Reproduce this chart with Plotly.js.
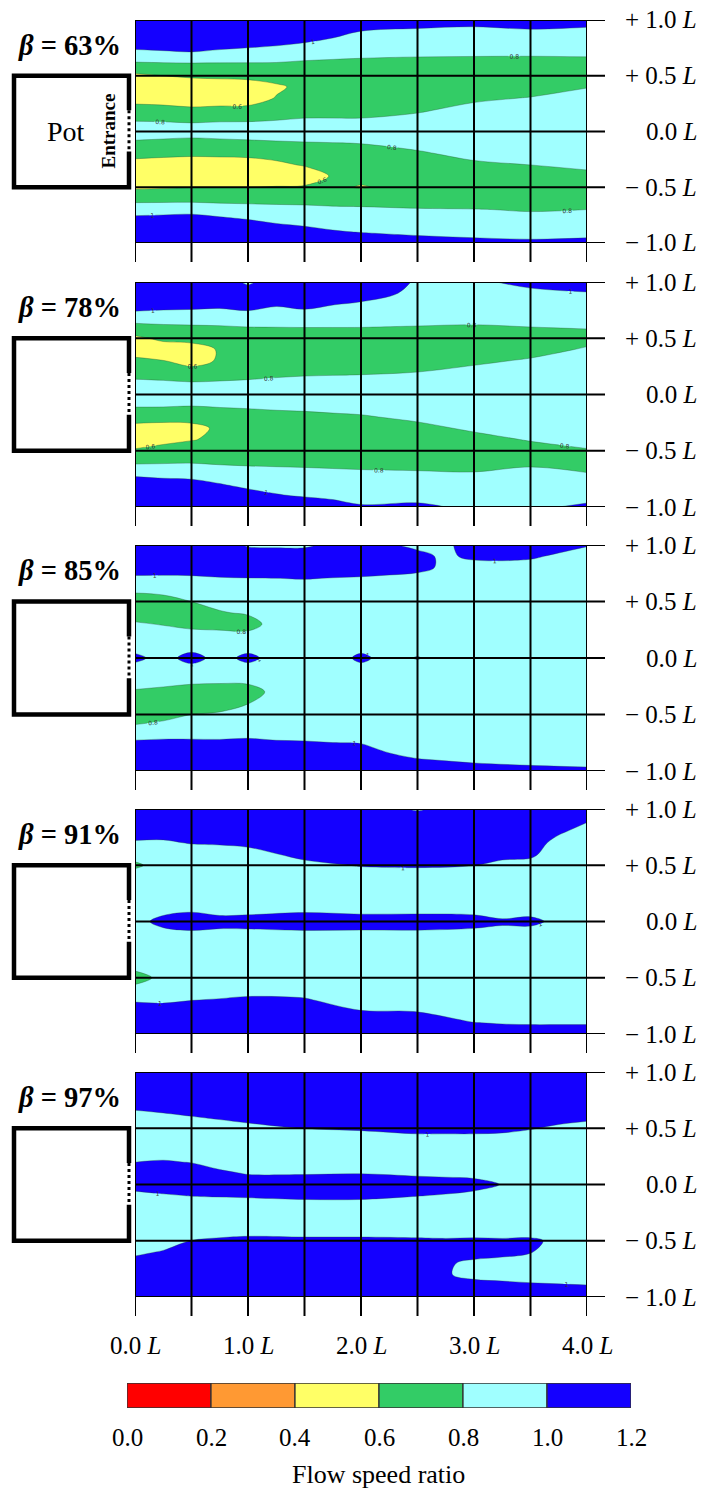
<!DOCTYPE html>
<html><head><meta charset="utf-8">
<script src="https://cdn.plot.ly/plotly-3.0.1.min.js"></script>
<style>html,body{margin:0;padding:0;background:#fff}#chart{width:713px;height:1490px}</style>
</head><body><div id="chart"></div>
<script>
// ---------- DATA ----------
// y nodes (in units of L), top to bottom
const yNodes = [1.0, 0.9, 0.8, 0.7, 0.6, 0.5, 0.4, 0.3, 0.2, 0.1, 0.0, -0.1, -0.2, -0.3, -0.4, -0.5, -0.6, -0.7, -0.8, -0.9, -1.0];
const betaLabels = ['63%', '78%', '85%', '91%', '97%'];

// beta = 63 %  (each inner array = one x column, values top -> bottom)
const x63 = [0, 0.25, 0.5, 0.75, 1, 1.25, 1.5, 1.75, 2, 2.5, 3, 3.5, 4];
const z63 = [
  [1.15,1.15,1.10,0.945,0.758,0.56,0.45,0.53,0.66,0.79,0.91,0.77,0.66,0.525,0.45,0.57,0.733,0.909,1.075,1.15,1.15],
  [1.15,1.15,1.12,0.96,0.767,0.60,0.45,0.51,0.653,0.787,0.89,0.756,0.644,0.51,0.45,0.585,0.733,0.916,1.09,1.15,1.15],
  [1.15,1.15,1.135,0.978,0.771,0.629,0.48,0.48,0.63,0.778,0.875,0.744,0.633,0.495,0.45,0.598,0.733,0.925,1.105,1.15,1.15],
  [1.15,1.15,1.105,0.945,0.773,0.64,0.495,0.495,0.643,0.786,0.89,0.754,0.64,0.50,0.45,0.598,0.733,0.89,1.06,1.15,1.15],
  [1.15,1.15,1.075,0.923,0.775,0.65,0.51,0.50,0.648,0.786,0.905,0.765,0.647,0.51,0.45,0.598,0.733,0.871,1.015,1.15,1.15],
  [1.15,1.15,1.045,0.903,0.776,0.678,0.57,0.61,0.705,0.80,0.92,0.779,0.674,0.555,0.465,0.612,0.736,0.854,0.966,1.105,1.15],
  [1.15,1.15,1.005,0.882,0.755,0.65,0.65,0.65,0.68,0.83,0.935,0.791,0.704,0.617,0.48,0.623,0.737,0.844,0.941,1.06,1.15],
  [1.15,1.075,0.953,0.86,0.748,0.65,0.65,0.65,0.68,0.83,0.95,0.80,0.65,0.64,0.62,0.63,0.715,0.837,0.923,1.015,1.15],
  [1.15,1.0,0.923,0.846,0.74,0.65,0.65,0.65,0.68,0.83,0.965,0.815,0.665,0.65,0.64,0.59,0.71,0.832,0.912,0.992,1.135],
  [1.09,0.972,0.903,0.834,0.725,0.65,0.65,0.65,0.748,0.90,0.95,0.905,0.755,0.65,0.65,0.65,0.68,0.815,0.889,0.963,1.075],
  [1.06,0.961,0.895,0.83,0.718,0.65,0.65,0.74,0.89,0.95,0.95,0.95,0.89,0.74,0.65,0.65,0.665,0.807,0.879,0.95,1.045],
  [1.105,0.978,0.904,0.83,0.71,0.65,0.665,0.815,0.95,0.95,0.95,0.95,0.95,0.80,0.65,0.65,0.65,0.785,0.867,0.941,1.03],
  [1.068,0.964,0.898,0.833,0.725,0.65,0.785,0.935,0.95,0.95,0.95,0.95,0.95,0.868,0.718,0.65,0.65,0.80,0.874,0.948,1.045]
];

// beta = 78 %
const x78 = [0, 0.25, 0.5, 0.75, 1, 1.25, 1.5, 1.75, 2, 2.5, 3, 3.5, 4];
const z78 = [
  [1.15,1.15,1.10,0.932,0.735,0.561,0.513,0.639,0.731,0.839,0.95,0.816,0.68,0.539,0.478,0.627,0.766,0.952,1.114,1.15,1.15],
  [1.15,1.15,1.078,0.92,0.765,0.641,0.50,0.604,0.713,0.83,0.95,0.815,0.671,0.525,0.545,0.669,0.778,0.931,1.087,1.15,1.15],
  [1.15,1.15,1.065,0.917,0.776,0.657,0.522,0.53,0.675,0.817,0.95,0.803,0.675,0.539,0.59,0.689,0.786,0.922,1.069,1.15,1.15],
  [1.15,1.15,1.047,0.913,0.785,0.64,0.615,0.62,0.68,0.83,0.95,0.823,0.673,0.635,0.635,0.65,0.77,0.892,1.01,1.15,1.15],
  [0.95,1.15,1.078,0.935,0.80,0.65,0.65,0.65,0.698,0.848,0.95,0.839,0.689,0.65,0.65,0.65,0.764,0.867,0.954,1.072,1.15],
  [1.15,1.15,1.02,0.908,0.803,0.654,0.65,0.65,0.725,0.875,0.95,0.86,0.71,0.65,0.65,0.65,0.76,0.856,0.932,1.015,1.15],
  [1.15,1.15,1.056,0.925,0.807,0.659,0.65,0.65,0.746,0.896,0.95,0.875,0.725,0.65,0.65,0.65,0.755,0.848,0.917,0.986,1.12],
  [1.15,1.15,1.005,0.903,0.806,0.659,0.65,0.65,0.755,0.905,0.95,0.898,0.748,0.65,0.65,0.65,0.745,0.84,0.903,0.965,1.068],
  [1.15,1.095,0.97,0.887,0.805,0.659,0.65,0.65,0.764,0.914,0.95,0.92,0.77,0.65,0.65,0.65,0.734,0.832,0.89,0.948,1.015],
  [0.98,0.95,0.95,0.937,0.787,0.65,0.65,0.65,0.80,0.95,0.95,0.95,0.866,0.716,0.65,0.65,0.712,0.826,0.888,0.95,1.03],
  [0.97,0.95,0.95,0.92,0.77,0.65,0.65,0.739,0.889,0.95,0.95,0.95,0.95,0.85,0.70,0.65,0.667,0.817,0.95,0.95,0.97],
  [1.045,0.962,0.908,0.854,0.80,0.65,0.686,0.836,0.95,0.95,0.95,0.95,0.95,0.95,0.824,0.674,0.734,0.884,0.95,0.95,0.97],
  [1.111,0.986,0.93,0.875,0.82,0.704,0.833,0.95,0.95,0.95,0.95,0.95,0.95,0.95,0.92,0.77,0.667,0.808,0.876,0.945,1.03]
];

// beta = 85 %
const x85 = [0, 0.25, 0.5, 0.75, 1, 1.25, 1.5, 1.75, 2, 2.25, 2.5, 2.75, 3, 3.5, 4];
const z85 = [
  [1.15,1.15,1.099,0.958,0.835,0.692,0.68,0.83,0.93,0.9,1.067,0.9,0.918,0.768,0.65,0.667,0.816,0.96,1.108,1.15,1.15],
  [1.15,1.15,1.09,0.958,0.854,0.728,0.65,0.785,0.92,0.9,0.9,0.9,0.884,0.734,0.65,0.725,0.858,0.974,1.117,1.15,1.15],
  [1.15,1.15,1.086,0.965,0.883,0.802,0.653,0.734,0.884,0.9,1.1,0.9,0.848,0.698,0.653,0.80,0.889,0.976,1.108,1.15,1.15],
  [1.15,1.15,1.108,0.982,0.919,0.857,0.785,0.72,0.87,0.9,0.9,0.9,0.839,0.689,0.707,0.828,0.901,0.975,1.099,1.15,1.15],
  [0.97,1.15,1.12,0.989,0.934,0.878,0.823,0.712,0.857,0.9,1.07,0.9,0.848,0.698,0.796,0.863,0.925,0.986,1.117,1.15,1.15],
  [0.95,1.15,1.142,0.992,0.85,0.85,0.85,0.89,0.88,0.9,0.9,0.9,0.88,0.87,0.86,0.85,0.85,0.958,1.108,1.15,1.15],
  [0.95,1.15,1.15,1.006,0.856,0.85,0.85,0.85,0.85,0.85,0.85,0.85,0.85,0.85,0.85,0.85,0.85,0.949,1.099,1.15,1.15],
  [1.06,1.15,1.135,0.985,0.85,0.85,0.85,0.85,0.85,0.85,0.85,0.85,0.85,0.85,0.85,0.85,0.85,0.927,1.077,1.15,1.15],
  [1.15,1.15,1.12,0.972,0.85,0.85,0.85,0.85,0.85,0.9,1.07,0.9,0.85,0.85,0.85,0.85,0.85,0.913,1.063,1.15,1.15],
  [1.02,1.15,1.099,0.949,0.85,0.85,0.85,0.85,0.85,0.85,0.88,0.85,0.85,0.85,0.85,0.85,0.85,0.85,0.94,1.09,1.15],
  [0.95,1.06,1.067,0.918,0.85,0.85,0.85,0.85,0.85,0.85,1.022,0.85,0.85,0.85,0.85,0.85,0.85,0.85,0.865,1.015,1.15],
  [0.97,0.96,0.955,0.9,0.85,0.85,0.85,0.85,0.85,0.85,0.85,0.85,0.85,0.85,0.85,0.85,0.85,0.85,0.85,0.985,1.135],
  [1.08,1.05,0.9,0.85,0.85,0.85,0.85,0.85,0.85,0.85,0.85,0.85,0.85,0.85,0.85,0.85,0.85,0.85,0.85,0.957,1.106],
  [1.15,1.04,0.89,0.85,0.85,0.85,0.85,0.85,0.85,0.85,0.85,0.85,0.85,0.85,0.85,0.85,0.85,0.85,0.85,0.925,1.075],
  [1.022,0.872,0.85,0.85,0.85,0.85,0.85,0.85,0.85,0.85,0.85,0.85,0.85,0.85,0.85,0.85,0.85,0.85,0.85,0.902,1.052]
];

// beta = 91 %
const x91 = [0, 0.25, 0.5, 0.75, 1, 1.5, 2, 2.5, 3, 3.25, 3.5, 3.75, 4];
const z91 = [
  [1.15,1.15,1.12,0.97,0.9,0.757,0.9,0.88,0.88,0.9,0.91,0.88,0.87,0.87,0.9,0.65,0.9,0.976,1.126,1.15,1.15],
  [1.15,1.15,1.112,0.962,0.9,0.9,0.9,0.85,0.85,0.93,1.08,0.934,0.85,0.85,0.9,0.9,0.88,0.962,1.112,1.15,1.15],
  [1.15,1.15,1.15,1.017,0.867,0.85,0.85,0.85,0.85,0.975,1.12,0.97,0.85,0.85,0.85,0.85,0.85,0.998,1.149,1.15,1.15],
  [1.15,1.15,1.15,1.03,0.88,0.85,0.85,0.85,0.85,0.93,1.08,0.955,0.85,0.85,0.85,0.85,0.871,1.021,1.15,1.15,1.15],
  [1.15,1.15,1.15,1.06,0.91,0.85,0.85,0.85,0.85,0.939,1.089,0.955,0.85,0.85,0.85,0.85,0.901,1.051,1.15,1.15,1.15],
  [1.15,1.15,1.15,1.15,1.08,0.93,0.85,0.85,0.85,0.97,1.12,0.97,0.85,0.85,0.85,0.85,0.88,1.03,1.15,1.15,1.15],
  [1.15,1.15,1.15,1.15,1.15,1.018,0.868,0.85,0.85,0.948,1.098,0.97,0.85,0.85,0.85,0.85,0.85,0.865,1.015,1.15,1.15],
  [0.97,1.15,1.15,1.15,1.15,1.032,0.882,0.85,0.85,0.952,1.10,0.97,0.85,0.85,0.85,0.85,0.85,0.852,0.998,1.15,1.15],
  [1.15,1.15,1.15,1.15,1.15,1.005,0.855,0.85,0.85,0.939,1.089,0.943,0.85,0.85,0.85,0.85,0.85,0.85,0.856,1.006,1.15],
  [1.15,1.15,1.15,1.15,1.08,0.93,0.85,0.85,0.85,0.886,1.036,0.934,0.85,0.85,0.85,0.85,0.85,0.85,0.85,0.984,1.134],
  [1.15,1.15,1.15,1.15,1.057,0.907,0.85,0.85,0.85,0.916,1.06,0.912,0.85,0.85,0.85,0.85,0.85,0.85,0.85,0.975,1.125],
  [1.15,1.15,1.047,0.897,0.85,0.85,0.85,0.85,0.85,0.88,0.935,0.88,0.85,0.85,0.85,0.85,0.85,0.85,0.85,0.975,1.125],
  [1.15,1.03,0.88,0.85,0.85,0.85,0.85,0.85,0.85,0.85,0.85,0.85,0.85,0.85,0.85,0.85,0.85,0.85,0.85,0.975,1.125]
];

// beta = 97 %
const x97 = [0, 0.25, 0.5, 0.75, 1, 1.5, 2, 2.5, 2.75, 3, 3.25, 3.5, 3.75, 4];
const z97 = [
  [1.15,1.15,1.15,1.06,0.91,0.85,0.85,0.852,0.998,1.15,1.089,0.939,0.85,0.85,0.85,0.85,0.946,1.096,1.15,1.15,1.15],
  [1.15,1.15,1.15,1.096,0.946,0.85,0.85,0.874,1.024,1.15,1.125,0.975,0.85,0.85,0.85,0.871,1.021,1.15,1.15,1.15,1.15],
  [1.15,1.15,1.15,1.15,0.99,0.85,0.85,0.85,0.988,1.138,1.15,1.006,0.856,0.85,0.855,1.005,1.15,1.15,1.15,1.15,1.15],
  [1.15,1.15,1.15,1.15,1.035,0.885,0.85,0.85,0.90,1.05,1.15,1.018,0.868,0.85,0.89,1.04,1.15,1.15,1.15,1.15,1.15],
  [1.15,1.15,1.15,1.15,1.08,0.93,0.85,0.85,0.85,0.983,1.133,1.027,0.877,0.85,0.91,1.06,1.15,1.15,1.15,1.15,1.15],
  [1.15,1.15,1.15,1.15,1.15,1.005,0.855,0.85,0.85,0.983,1.133,1.05,0.90,0.85,0.90,1.05,1.15,1.15,1.15,1.15,1.15],
  [1.15,1.15,1.15,1.15,1.15,1.032,0.882,0.85,0.85,0.993,1.143,1.05,0.90,0.85,0.90,1.05,1.15,1.15,1.15,1.15,1.15],
  [1.15,1.15,1.15,1.15,1.15,1.075,0.925,0.85,0.85,0.961,1.111,1.006,0.856,0.85,0.89,1.04,1.15,1.15,1.15,1.15,1.15],
  [1.15,1.15,1.15,1.15,1.15,1.075,0.925,0.85,0.85,0.947,1.098,0.983,0.85,0.85,0.88,1.032,1.10,1.03,1.02,1.10,1.15],
  [1.15,1.15,1.15,1.15,1.15,1.075,0.925,0.85,0.85,0.93,1.08,0.939,0.85,0.85,0.89,1.04,1.099,0.949,0.935,1.086,1.15],
  [1.15,1.15,1.15,1.15,1.15,1.062,0.912,0.85,0.85,0.88,0.99,0.88,0.85,0.85,0.88,1.032,1.068,0.918,0.913,1.063,1.15],
  [1.15,1.15,1.15,1.15,1.15,1.018,0.868,0.85,0.85,0.85,0.85,0.85,0.85,0.85,0.89,1.04,1.01,0.86,0.89,1.04,1.15],
  [1.15,1.15,1.15,1.15,1.10,0.95,0.85,0.85,0.85,0.85,0.85,0.85,0.85,0.85,0.85,0.95,0.93,0.85,0.875,1.025,1.15],
  [1.15,1.15,1.15,1.15,1.057,0.907,0.85,0.85,0.85,0.85,0.85,0.85,0.85,0.85,0.85,0.85,0.85,0.85,0.86,1.01,1.15]
];

// colour classes of the flow speed ratio
const levels = [0.0, 0.2, 0.4, 0.6, 0.8, 1.0, 1.2];
const levelColors = ['#ff0000', '#ff9933', '#ffff66', '#33cc66', '#a0ffff', '#1400ff'];

// grid / tick labels
const xGrid = [0, 0.5, 1, 1.5, 2, 2.5, 3, 3.5, 4];
const yGrid = [1, 0.5, 0, -0.5, -1];
const yTickText = ['+ 1.0', '+ 0.5', '0.0', '\u2212 0.5', '\u2212 1.0'];
const xTickVals = [0, 1, 2, 3, 4];
const xTickText = ['0.0', '1.0', '2.0', '3.0', '4.0'];
const cbTitle = 'Flow speed ratio';

// ---------- LAYOUT GEOMETRY (pixels) ----------
const W = 713, H = 1490;
const plotL = 135, plotR = 587, gridR = 605, tickDrop = 19;
const panelTop = [20, 282, 545, 809, 1072];
const panelBot = [243, 507, 771, 1034, 1297];
const potL = 14, potR = 129;
const SERIF = 'Liberation Serif, Times New Roman, serif';
const fx = p => p / W;
const fy = p => 1 - p / H;

const panels = [
  {x: x63, z: z63}, {x: x78, z: z78}, {x: x85, z: z85}, {x: x91, z: z91}, {x: x97, z: z97}
];

// colorscale: band k (levels[k]..levels[k+1]) -> colour k
const colorscale = levelColors.map((c, k) => [k / (levelColors.length - 1), c]);

const traces = [], shapes = [], annotations = [];
const layout = {
  width: W, height: H, margin: {l: 0, r: 0, t: 0, b: 0},
  paper_bgcolor: '#fff', plot_bgcolor: '#fff', showlegend: false,
  barmode: 'overlay', font: {family: SERIF, color: '#000'}
};

panels.forEach((p, i) => {
  const n = i + 1;
  const sfx = n === 1 ? '' : String(n);
  const xr = 'x' + sfx, yr = 'y' + sfx;
  p.z.forEach(col => { if (col.length !== yNodes.length) throw new Error('bad column length in panel ' + n); });
  if (p.z.length !== p.x.length) throw new Error('bad column count in panel ' + n);
  const zRows = yNodes.map((_, r) => p.z.map(col => col[r]));

  traces.push({
    type: 'contour', x: p.x, y: yNodes, z: zRows, xaxis: xr, yaxis: yr,
    autocontour: false,
    contours: {start: levels[1], end: levels[levels.length - 2], size: levels[1] - levels[0],
               coloring: 'fill', showlines: true, showlabels: true,
               labelfont: {size: 6, color: '#333', family: 'DejaVu Sans'}},
    colorscale: colorscale, showscale: false,
    line: {color: 'rgba(40,70,40,0.55)', width: 0.6, smoothing: 1},
    hoverinfo: 'skip'
  });

  layout['xaxis' + sfx] = {domain: [fx(plotL), fx(plotR)], range: [0, 4], visible: false, anchor: yr, fixedrange: true};
  layout['yaxis' + sfx] = {domain: [fy(panelBot[i]), fy(panelTop[i])], range: [-1, 1], visible: false, anchor: xr, fixedrange: true};

  // vertical grid lines (extend below panel)
  xGrid.forEach(xv => shapes.push({type: 'line', xref: xr, yref: 'paper', x0: xv, x1: xv,
    y0: fy(panelTop[i]), y1: fy(panelBot[i] + tickDrop), line: {color: '#000', width: 2}, layer: 'above'}));
  // horizontal grid lines (extend to the right)
  yGrid.forEach(yv => shapes.push({type: 'line', xref: 'paper', yref: yr, x0: fx(plotL), x1: fx(gridR),
    y0: yv, y1: yv, line: {color: '#000', width: 2}, layer: 'above'}));

  // y tick labels
  yGrid.forEach((yv, k) => annotations.push({xref: 'paper', yref: yr, x: fx(699), y: yv,
    xanchor: 'right', yanchor: 'middle', showarrow: false,
    text: yTickText[k] + ' <i>L</i>', font: {family: SERIF, size: 25, color: '#000'}}));

  // beta label
  annotations.push({xref: 'paper', yref: yr, x: fx(16), y: 0.77, xanchor: 'left', yanchor: 'middle',
    showarrow: false, text: '<b><i>\u03b2</i> = ' + betaLabels[i] + '</b>',
    font: {family: SERIF, size: 28.5, color: '#000'}});

  // pot outline
  shapes.push({type: 'path', xref: 'paper', yref: yr,
    path: `M ${fx(potR)},0.19 L ${fx(potR)},0.5 L ${fx(potL)},0.5 L ${fx(potL)},-0.5 L ${fx(potR)},-0.5 L ${fx(potR)},-0.18`,
    line: {color: '#000', width: 4.5}, layer: 'above'});
  shapes.push({type: 'line', xref: 'paper', yref: yr, x0: fx(potR), x1: fx(potR), y0: 0.19, y1: -0.18,
    line: {color: '#000', width: 3, dash: 'dot'}, layer: 'above'});
});

// pot labels (first panel only)
annotations.push({xref: 'paper', yref: 'y', x: fx(66), y: 0, xanchor: 'center', yanchor: 'middle', showarrow: false,
  text: 'Pot', font: {family: SERIF, size: 28, color: '#000'}});
annotations.push({xref: 'paper', yref: 'y', x: fx(108), y: 0, xanchor: 'center', yanchor: 'middle', showarrow: false,
  textangle: -90, text: '<b>Entrance</b>', font: {family: SERIF, size: 19, color: '#000'}});

// bottom x tick labels
xTickVals.forEach((xv, k) => annotations.push({xref: 'x5', yref: 'paper', x: xv, y: fy(1345),
  xanchor: 'center', yanchor: 'middle', showarrow: false,
  text: xTickText[k] + ' <i>L</i>', font: {family: SERIF, size: 25, color: '#000'}}));

// colour bar built from the level classes
const cbStarts = levels.slice(0, -1);
const cbWidths = cbStarts.map((s, k) => levels[k + 1] - s);
traces.push({type: 'bar', orientation: 'h', y: cbStarts.map(() => 0), x: cbWidths, base: cbStarts,
  width: 1, marker: {color: levelColors, line: {color: '#333', width: 1.3}},
  xaxis: 'x6', yaxis: 'y6', hoverinfo: 'skip', cliponaxis: false});
layout.xaxis6 = {domain: [fx(127), fx(631)], range: [levels[0], levels[levels.length - 1]], visible: false, anchor: 'y6', fixedrange: true};
layout.yaxis6 = {domain: [fy(1408), fy(1383)], range: [-0.5, 0.5], visible: false, anchor: 'x6', fixedrange: true};
levels.forEach(lv => annotations.push({xref: 'x6', yref: 'paper', x: lv, y: fy(1437),
  xanchor: 'center', yanchor: 'middle', showarrow: false, text: lv.toFixed(1),
  font: {family: SERIF, size: 25, color: '#000'}}));
annotations.push({xref: 'paper', yref: 'paper', x: fx(379), y: fy(1474), xanchor: 'center', yanchor: 'middle',
  showarrow: false, text: cbTitle, font: {family: SERIF, size: 26, color: '#000'}});

layout.shapes = shapes;
layout.annotations = annotations;

Plotly.newPlot('chart', traces, layout, {staticPlot: true, displayModeBar: false});
</script>
</body></html>
